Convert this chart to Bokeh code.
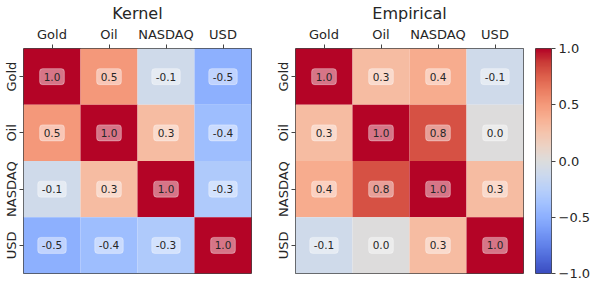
import numpy as np
from bokeh.plotting import figure
from bokeh.models import (ColumnDataSource, LinearColorMapper, FactorRange, Range1d,
                          FixedTicker, CustomJSTickFormatter)
from bokeh.layouts import row
from bokeh.embed import file_html
from bokeh.resources import INLINE
from bokeh.core.properties import value

# ---------------- data ----------------
assets = ["Gold", "Oil", "NASDAQ", "USD"]
kernel_corr = [
    [1.0, 0.5, -0.1, -0.5],
    [0.5, 1.0, 0.3, -0.4],
    [-0.1, 0.3, 1.0, -0.3],
    [-0.5, -0.4, -0.3, 1.0],
]
empirical_corr = [
    [1.0, 0.3, 0.4, -0.1],
    [0.3, 1.0, 0.8, 0.0],
    [0.4, 0.8, 1.0, 0.3],
    [-0.1, 0.0, 0.3, 1.0],
]
titles = ["Kernel", "Empirical"]
colorbar_ticks = [-1.0, -0.5, 0.0, 0.5, 1.0]

# ---------------- coolwarm palette ----------------
cw_t = np.linspace(0, 1, 17)
cw_r = [0.2298, 0.3039, 0.3830, 0.4667, 0.5530, 0.6392, 0.7222, 0.7987, 0.8654,
        0.9241, 0.9589, 0.9700, 0.9580, 0.9239, 0.8692, 0.7956, 0.7057]
cw_g = [0.2987, 0.4065, 0.5094, 0.6046, 0.6889, 0.7596, 0.8140, 0.8498, 0.8654,
        0.8274, 0.7698, 0.6943, 0.6028, 0.4973, 0.3783, 0.2413, 0.0156]
cw_b = [0.7537, 0.8450, 0.9174, 0.9682, 0.9954, 0.9982, 0.9766, 0.9317, 0.8654,
        0.7745, 0.6780, 0.5794, 0.4818, 0.3880, 0.3003, 0.2205, 0.1502]
tt = np.linspace(0, 1, 256)
palette = ["#%02x%02x%02x" % (int(round(255 * np.interp(t, cw_t, cw_r))),
                              int(round(255 * np.interp(t, cw_t, cw_g))),
                              int(round(255 * np.interp(t, cw_t, cw_b)))) for t in tt]
mapper = LinearColorMapper(palette=palette, low=-1.0, high=1.0)

FONT = "DejaVu Sans"
TXT = "#262626"
EDGE = "#444444"
FW, FH = 228, 225
TOP, BOT = 44, 1


def heatmap(title, corr, left, right):
    xs, ys, vs, labels = [], [], [], []
    for i, rname in enumerate(assets):
        for j, cname in enumerate(assets):
            xs.append(cname)
            ys.append(rname)
            vs.append(corr[i][j])
            labels.append("%.1f" % corr[i][j])
    src = ColumnDataSource(dict(x=xs, y=ys, v=vs, label=labels))
    p = figure(frame_width=FW, frame_height=FH,
               x_range=FactorRange(*assets), y_range=FactorRange(*reversed(assets)),
               x_axis_location="above", title=title,
               output_backend="svg", toolbar_location=None,
               min_border_left=left, min_border_right=right,
               min_border_top=TOP, min_border_bottom=BOT)
    p.rect(x="x", y="y", width=1, height=1, source=src,
           fill_color={"field": "v", "transform": mapper}, line_color=None)
    p.text(x="x", y="y", text="label", source=src, text_align="center",
           text_baseline="middle", text_font=value(FONT), text_font_size="10.5px",
           text_color=TXT, background_fill_color="white", background_fill_alpha=0.45,
           border_line_color="white", border_line_alpha=0.35, border_line_width=1,
           border_radius=3, padding=4)
    p.title.align = "center"
    p.title.text_font = FONT
    p.title.text_font_style = "normal"
    p.title.text_font_size = "16px"
    p.title.text_color = TXT
    p.title.standoff = 2
    p.grid.visible = False
    p.outline_line_color = EDGE
    p.outline_line_width = 1
    for ax in (p.xaxis[0], p.yaxis[0]):
        ax.axis_line_color = None
        ax.major_tick_in = 0
        ax.major_tick_out = 4
        ax.major_tick_line_color = EDGE
        ax.minor_tick_line_color = None
        ax.major_label_standoff = 3
        ax.major_label_text_font = FONT
        ax.major_label_text_font_size = "13px"
        ax.major_label_text_color = TXT
    p.yaxis[0].major_label_standoff = 1
    p.yaxis[0].major_label_orientation = "vertical"
    return p


p1 = heatmap(titles[0], kernel_corr, 16, 21)
p2 = heatmap(titles[1], empirical_corr, 16, 5)

# ---------------- colorbar ----------------
p3 = figure(frame_width=16, frame_height=FH, x_range=Range1d(0, 1), y_range=Range1d(-1, 1),
            y_axis_location="right", output_backend="svg", toolbar_location=None,
            min_border_left=7, min_border_right=2, min_border_top=TOP, min_border_bottom=11)
grad = np.linspace(-1, 1, 256).reshape(256, 1)
p3.image(image=[grad], x=0, y=-1, dw=1, dh=2, color_mapper=mapper)
p3.xaxis.visible = False
p3.grid.visible = False
p3.outline_line_color = EDGE
ya = p3.yaxis[0]
ya.ticker = FixedTicker(ticks=colorbar_ticks)
ya.formatter = CustomJSTickFormatter(code='return (tick < 0 ? "\\u2212" : "") + Math.abs(tick).toFixed(1);')
ya.axis_line_color = None
ya.major_tick_in = 0
ya.major_tick_out = 4
ya.major_tick_line_color = EDGE
ya.minor_tick_line_color = None
ya.major_label_standoff = 3
ya.major_label_text_font = FONT
ya.major_label_text_font_size = "13px"
ya.major_label_text_color = TXT

layout = row(p1, p2, p3, spacing=0)
open("out.html", "w").write(file_html(layout, INLINE))
